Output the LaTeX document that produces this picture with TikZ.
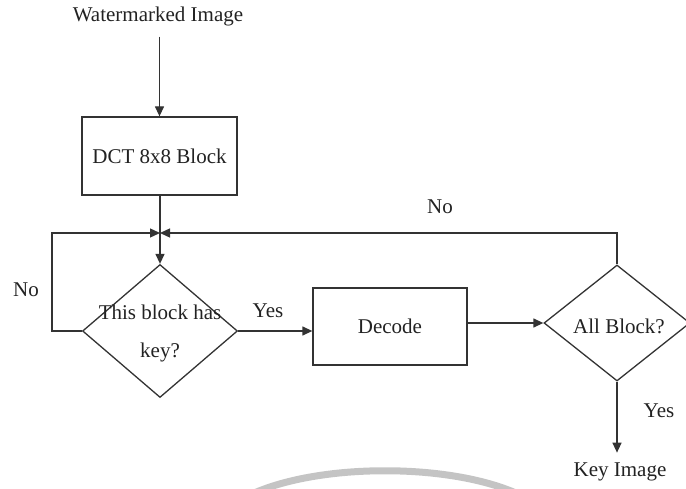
\documentclass[tikz,border=0pt]{standalone}
\usepackage{fontspec}
\setmainfont{Liberation Serif}
\usetikzlibrary{arrows.meta,shapes.geometric}
\definecolor{ink}{HTML}{222222}
\definecolor{linecol}{HTML}{333333}
\definecolor{arcgray}{HTML}{C4C4C4}
\begin{document}
\begin{tikzpicture}[x=1pt,y=-1pt,
  every node/.style={text=ink, font=\fontsize{21}{24}\selectfont},
  stepbox/.style={draw=linecol, line width=1.3pt, rectangle, inner sep=0pt},
  decision/.style={draw=linecol, line width=1.3pt, diamond, inner sep=0pt},
  link/.style={draw=linecol, line width=1.3pt},
  arr/.style={link, -{Triangle[length=10pt,width=9pt]}},
  lbl/.style={inner sep=0pt}
]
\useasboundingbox (0,0) rectangle (686,489);

% faint grey arc near the lower edge
\draw[line width=7pt, arcgray] (252,494) .. controls (320,463) and (450,463) .. (518,494);

% nodes
\node[lbl] (wm) at (158,16) {Watermarked Image};
\node[stepbox, minimum width=155pt, minimum height=78pt] (dct) at (159.5,156) {DCT 8x8 Block};
\coordinate (j) at (160,233);
\node[decision, minimum width=155pt, minimum height=133pt] (d1) at (160,331) {};
\node[lbl, align=center, font=\fontsize{21}{38}\selectfont] (d1t) at (160,333) {This block has\\key?};
\node[stepbox, minimum width=154pt, minimum height=77pt] (dec) at (390,326.5) {Decode};
\node[decision, minimum width=146pt, minimum height=116pt] (d2) at (617,323) {};
\node[lbl] (d2t) at (619,326) {All Block?};
\node[lbl] (key) at (620,472) {Key Image};

% labels on the branches
\node[lbl] (no1) at (26,290) {No};
\node[lbl] (yes1) at (268,311) {Yes};
\node[lbl] (no2) at (440,207) {No};
\node[lbl] (yes2) at (659,411) {Yes};

% connectors
\draw[arr, shorten <=11pt] (dct.north |- wm.south) -- (dct.north);
\draw[link] (dct.south -| j) -- (j);
\draw[arr] (j) -- (d1.north);
\draw[arr] (d1.west) -- ++(-30,0) |- (j);
\draw[arr] (d2.north) |- (j);
\draw[arr] (d1.east) -- (d1.east -| dec.west);
\draw[arr] (dec.east |- d2.west) -- (d2.west);
\draw[arr, shorten >=10pt] (d2.south) -- (d2.south |- key.north);
\end{tikzpicture}
\end{document}
